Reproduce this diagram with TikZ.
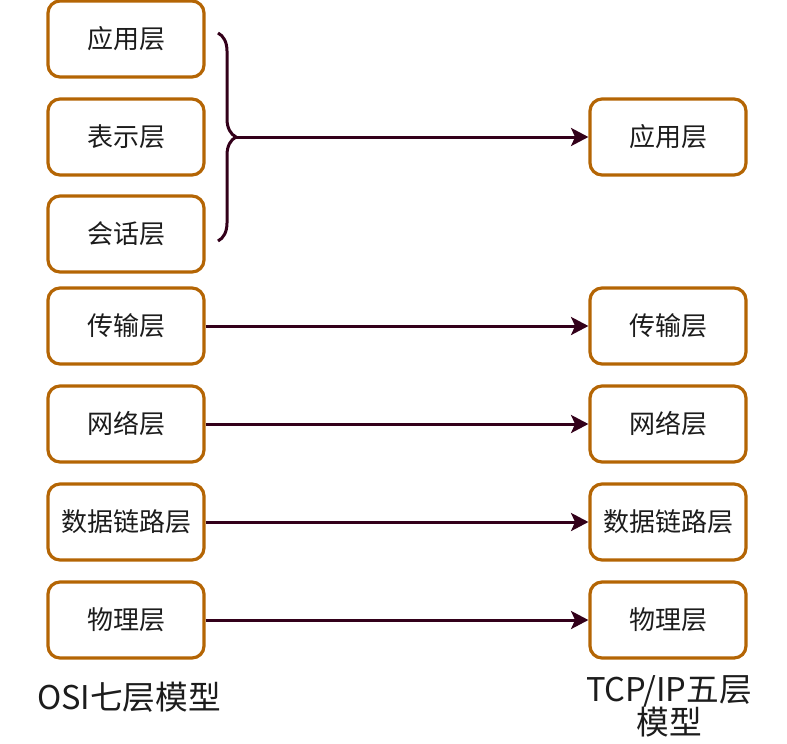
\documentclass[tikz,border=0pt]{standalone}
\usepackage{fontspec}
\setmainfont{Noto Sans CJK SC}
\definecolor{layerdraw}{HTML}{B46504}
\definecolor{linkdark}{HTML}{33001A}
\definecolor{txt}{HTML}{1C1C1C}
\usetikzlibrary{arrows.meta,decorations.pathreplacing}

\begin{document}
\begin{tikzpicture}[x=0.75pt,y=-0.75pt,
    layer/.style={draw=layerdraw,fill=white,line width=2.4pt,rounded corners=9pt,
      minimum width=117pt,minimum height=57pt,inner sep=0pt,
      text=txt,font=\fontsize{19.5}{22}\selectfont},
    modelcap/.style={text=txt,align=center,inner sep=0pt,
      font=\fontsize{24.5}{25}\selectfont},
    ar/.style={-{Stealth[length=13pt,width=13.5pt,inset=3pt]},linkdark,line width=2.25pt},
  ]
    \useasboundingbox (0,0) rectangle (787,743);
    % OSI side
    \node[layer](oapp) at (126,39)  {应用层};
    \node[layer](opre) at (126,137) {表示层};
    \node[layer](oses) at (126,234) {会话层};
    \node[layer](otra) at (126,326) {传输层};
    \node[layer](onet) at (126,424) {网络层};
    \node[layer](olnk) at (126,522) {数据链路层};
    \node[layer](ophy) at (126,620) {物理层};
    % TCP/IP side
    \node[layer](tapp) at (668,137) {应用层};
    \node[layer](ttra) at (668,326) {传输层};
    \node[layer](tnet) at (668,424) {网络层};
    \node[layer](tlnk) at (668,522) {数据链路层};
    \node[layer](tphy) at (668,620) {物理层};
    % brace over the upper three
    \coordinate (btop) at (218,33);
    \coordinate (bbot) at (218,241);
    \coordinate (btip) at (236,137);
    \draw[linkdark,line width=2.25pt,
      decorate,decoration={brace,amplitude=13.5pt,aspect=0.5}] (btop)--(bbot);
    \draw[ar](btip)--(tapp);
    \draw[ar](otra)--(ttra);\draw[ar](onet)--(tnet);
    \draw[ar](olnk)--(tlnk);\draw[ar](ophy)--(tphy);
    % captions
    \node[modelcap](osicap) at (129,697) {OSI七层模型};
    \node[modelcap](tcpcap) at (669,706) {TCP/IP五层\\模型};
\end{tikzpicture}
\end{document}
